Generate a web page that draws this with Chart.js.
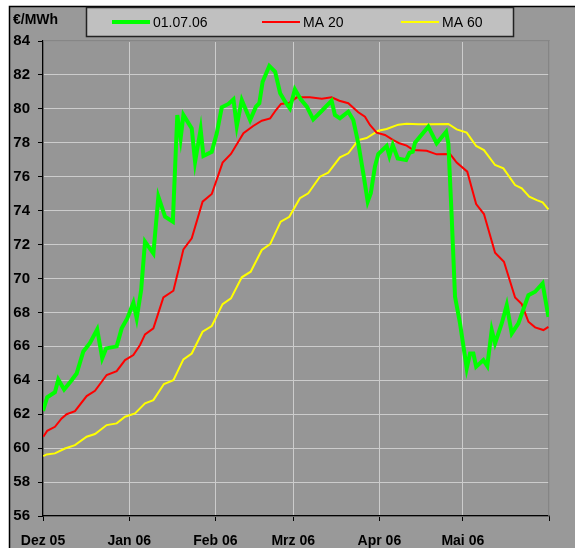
<!DOCTYPE html>
<html>
<head>
<meta charset="utf-8">
<script src="https://cdn.jsdelivr.net/npm/chart.js@4/dist/chart.umd.min.js"></script>
<style>
  body { margin: 0; background: #ffffff; }
  canvas { display: block; }
</style>
</head>
<body>
<canvas id="grafico" width="575" height="548"></canvas>
<script>
// Tage ab 01.12.2005
var monatTicks = [0, 31, 62, 90, 121, 151, 182];
var monatLabels = ['Dez 05', 'Jan 06', 'Feb 06', 'Mrz 06', 'Apr 06', 'Mai 06', ''];

var gruenTag = [0, 1.5, 4.3, 5.5, 7.6, 10.3, 12.1, 14.5, 16.9, 19.5, 21.3, 22.7, 26.5, 28.3, 30.3, 32.5, 33.7, 35.3, 36.7, 39.7,
  41.5, 43.9, 46.7, 48.3, 49.5, 50.5, 53.5, 54.7, 56.7, 57.7, 60.7, 62.5, 64.3, 66.7, 68.5, 69.7, 71.5, 74.5, 76.6, 77.8,
  79, 81.4, 83.5, 85.3, 87.1, 88.8, 90.6, 92.7, 94.9, 97.2, 100.3, 103.8, 105, 106.8, 109.8, 111.6, 113.4, 115.2, 116.8, 117.9,
  119.4, 120.6, 123.6, 124.6, 125.8, 127.6, 130.6, 131.8, 133, 133.8, 138.6, 141.6, 145, 145.8, 147, 148.2, 150, 152.4, 153.6, 154.8,
  155.8, 158.4, 159.8, 161.4, 162.6, 165, 166.8, 168.6, 171, 174.6, 177, 179.7, 181.8];
var gruenWert = [62.2, 63.0, 63.3, 64.05, 63.46, 64.0, 64.4, 65.7, 66.2, 67.0, 65.3, 65.88, 66.0, 67.06, 67.65, 68.57, 67.65, 69.32, 72.17, 71.48,
  74.82, 73.64, 73.35, 79.64, 78.26, 79.64, 78.85, 76.88, 78.79, 77.22, 77.47, 78.56, 80.09, 80.29, 80.56, 78.99, 80.52, 79.34, 80.13, 80.33,
  81.6, 82.53, 82.19, 80.92, 80.42, 80.03, 81.15, 80.56, 80.13, 79.38, 79.89, 80.48, 79.64, 79.44, 79.83, 79.34, 77.97, 76.2, 74.53, 75.02,
  76.6, 77.34, 77.81, 77.22, 77.87, 77.08, 76.98, 77.41, 77.47, 78.0, 78.95, 77.97, 78.65, 77.97, 73.64, 68.92, 67.35, 64.7, 65.58, 65.58,
  64.8, 65.19, 64.84, 66.96, 66.18, 67.35, 68.43, 66.76, 67.35, 69.02, 69.22, 69.71, 67.74];

var ma20Tag = [0.1, 1.5, 4.3, 6.7, 8.5, 11.5, 15.7, 18.7, 22.9, 26.5, 29.5, 32.5, 34.9, 36.7, 39.7, 43.3, 46.9, 49.3, 50.5, 53.5,
  57.4, 60.7, 64.6, 67.6, 72.1, 75.6, 78.7, 81.7, 83.8, 85.6, 88.6, 91.3, 96, 100.3, 103.8, 106.6, 109.8, 113.4, 115.8, 117.6,
  120, 123, 126, 128.2, 130.8, 133.2, 138, 141.6, 146.4, 148.8, 152.6, 155.8, 158.6, 162.6, 165.8, 169.8, 172.2, 174.6, 177, 180, 181.8];
var ma20Wert = [60.67, 61.02, 61.26, 61.75, 62.0, 62.18, 63.07, 63.38, 64.31, 64.54, 65.19, 65.49, 66.08, 66.71, 67.06, 68.89, 69.28, 70.89, 71.72, 72.37,
  74.53, 74.98, 76.83, 77.34, 78.56, 78.99, 79.3, 79.44, 79.93, 80.29, 80.36, 80.68, 80.68, 80.6, 80.68, 80.48, 80.33, 79.8, 79.54, 79.05,
  78.6, 78.46, 78.16, 77.97, 77.83, 77.57, 77.53, 77.32, 77.34, 76.83, 76.3, 74.39, 73.8, 71.52, 70.99, 68.88, 68.49, 67.45, 67.12, 66.96, 67.15];

var ma60Tag = [0.1, 1.3, 4.3, 7.9, 11.5, 15.7, 18.7, 22.9, 26.5, 29.5, 33.1, 36.7, 39.7, 43.5, 46.9, 50.5, 53.5, 57.4, 60.7, 64.6,
  67.6, 71.5, 74.7, 78.7, 81.7, 85.5, 88.6, 92.4, 95.4, 99.6, 102.6, 106.8, 109.8, 113.4, 116.4, 120.6, 123.6, 127.8, 130.8, 135,
  139.2, 145.8, 148.8, 152.4, 155.8, 158.6, 162.6, 165.6, 169.8, 172.2, 174.9, 177.6, 179.7, 181.8];
var ma60Wert = [59.53, 59.63, 59.69, 59.98, 60.18, 60.67, 60.83, 61.36, 61.46, 61.85, 62.05, 62.64, 62.83, 63.78, 64.01, 65.23, 65.58, 66.86, 67.2, 68.49,
  68.83, 70.07, 70.4, 71.68, 72.03, 73.35, 73.64, 74.73, 75.02, 76.0, 76.24, 77.14, 77.38, 78.16, 78.28, 78.71, 78.81, 79.07, 79.12, 79.09,
  79.09, 79.11, 78.79, 78.6, 77.81, 77.57, 76.69, 76.49, 75.51, 75.31, 74.82, 74.62, 74.49, 74.07];

function punkte(tage, werte) {
    var p = [];
    for (var i = 0; i < tage.length; i++) p.push({ x: tage[i], y: werte[i] });
    return p;
}

Chart.defaults.font.family = '"Liberation Sans", Arial, sans-serif';
Chart.defaults.color = '#000000';

// Hintergrund, Rahmen, Legende und Einheit wie im Excel-Diagramm
var hintergrund = {
    id: 'hintergrund',
    beforeDraw: function (chart) {
        var ctx = chart.ctx, a = chart.chartArea;
        ctx.save();
        ctx.fillStyle = '#ffffff';
        ctx.fillRect(0, 0, chart.width, chart.height);
        ctx.fillStyle = '#999999';
        ctx.fillRect(9, 6, chart.width - 9, chart.height - 6);
        ctx.strokeStyle = '#000000';
        ctx.lineWidth = 1.5;
        ctx.beginPath();
        ctx.moveTo(9.5, chart.height);
        ctx.lineTo(9.5, 6.5);
        ctx.lineTo(chart.width, 6.5);
        ctx.stroke();

        ctx.fillStyle = '#969696';
        ctx.fillRect(a.left, a.top, a.right - a.left, a.bottom - a.top);

        // Legende
        ctx.fillStyle = '#c0c0c0';
        ctx.fillRect(86, 7, 428, 30);
        ctx.strokeStyle = '#222222';
        ctx.lineWidth = 1.5;
        ctx.strokeRect(86.5, 7.5, 427, 29);

        var xs = [112, 262, 401];
        ctx.font = '14px "Liberation Sans", Arial, sans-serif';
        ctx.textBaseline = 'middle';
        chart.data.datasets.forEach(function (ds, i) {
            ctx.strokeStyle = ds.borderColor;
            ctx.lineWidth = ds.borderWidth;
            ctx.beginPath();
            ctx.moveTo(xs[i], 22);
            ctx.lineTo(xs[i] + 38, 22);
            ctx.stroke();
            ctx.fillStyle = '#000000';
            ctx.fillText(ds.label, xs[i] + 41, 23);
        });

        ctx.font = 'bold 14px "Liberation Sans", Arial, sans-serif';
        ctx.fillText('€/MWh', 13, 20);
        ctx.restore();
    },
    beforeDatasetsDraw: function (chart) {
        var ctx = chart.ctx, a = chart.chartArea;
        ctx.save();
        ctx.strokeStyle = '#808080';
        ctx.lineWidth = 1.5;
        ctx.beginPath();
        ctx.moveTo(a.left, a.top);
        ctx.lineTo(a.right, a.top);
        ctx.lineTo(a.right, a.bottom);
        ctx.stroke();
        ctx.restore();
    }
};

var ctx = document.getElementById('grafico').getContext('2d');

var grafico = new Chart(ctx, {
    type: 'line',
    data: {
        datasets: [{
            label: '01.07.06',
            data: punkte(gruenTag, gruenWert),
            borderColor: '#00ff00',
            borderWidth: 4,
            pointRadius: 0,
            tension: 0
        }, {
            label: 'MA 20',
            data: punkte(ma20Tag, ma20Wert),
            borderColor: '#ff0000',
            borderWidth: 2,
            pointRadius: 0,
            tension: 0
        }, {
            label: 'MA 60',
            data: punkte(ma60Tag, ma60Wert),
            borderColor: '#ffff00',
            borderWidth: 2,
            pointRadius: 0,
            tension: 0
        }]
    },
    options: {
        responsive: false,
        animation: false,
        layout: { padding: { left: 9, top: 41, right: 26, bottom: 0 } },
        plugins: {
            legend: { display: false },
            tooltip: { enabled: false }
        },
        scales: {
            x: {
                type: 'linear',
                min: 0,
                max: 182,
                afterBuildTicks: function (scale) {
                    scale.ticks = monatTicks.map(function (v) { return { value: v }; });
                },
                afterFit: function (scale) { scale.height = 32; },
                ticks: {
                    autoSkip: false,
                    maxRotation: 0,
                    padding: 12,
                    font: { size: 14, weight: 'bold' },
                    callback: function (value) {
                        return monatLabels[monatTicks.indexOf(value)];
                    }
                },
                grid: { color: '#cccccc', tickColor: '#000000', tickLength: 5 },
                border: { color: '#000000', width: 1.5 }
            },
            y: {
                min: 56,
                max: 84,
                afterFit: function (scale) { scale.width = 34; },
                ticks: {
                    stepSize: 2,
                    padding: 8,
                    font: { size: 15, weight: 'bold' }
                },
                grid: { color: '#cccccc', tickColor: '#000000', tickLength: 5 },
                border: { color: '#000000', width: 1.5 }
            }
        }
    },
    plugins: [hintergrund]
});
</script>
</body>
</html>
